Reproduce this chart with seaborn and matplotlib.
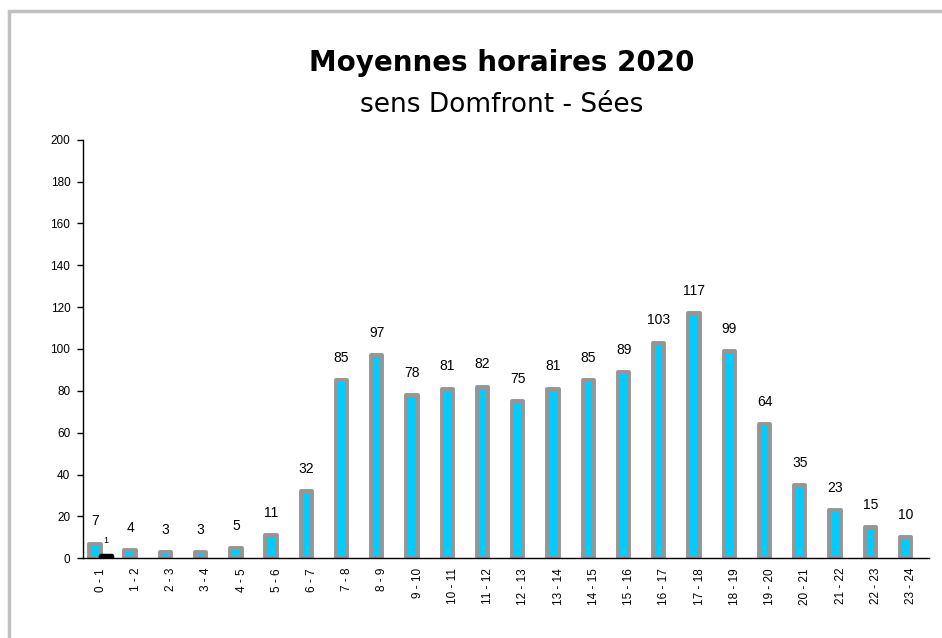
import numpy as np
import pandas as pd
import matplotlib
matplotlib.use('Agg')
import matplotlib.pyplot as plt
import matplotlib.patches as patches
import seaborn as sns

# Données
tranches = ['0 - 1', '1 - 2', '2 - 3', '3 - 4', '4 - 5', '5 - 6', '6 - 7', '7 - 8',
            '8 - 9', '9 - 10', '10 - 11', '11 - 12', '12 - 13', '13 - 14', '14 - 15',
            '15 - 16', '16 - 17', '17 - 18', '18 - 19', '19 - 20', '20 - 21',
            '21 - 22', '22 - 23', '23 - 24']
moyennes = [7, 4, 3, 3, 5, 11, 32, 85, 97, 78, 81, 82, 75, 81, 85, 89, 103, 117,
            99, 64, 35, 23, 15, 10]
serie2 = [1, 0, 0, 0, 0, 0, 0, 0, 0, 0, 0, 0, 0, 0, 0, 0, 0, 0, 0, 0, 0, 0, 0, 0]

df = pd.DataFrame({
    'tranche': tranches * 2,
    'valeur': moyennes + serie2,
    'serie': ['moy'] * len(tranches) + ['s2'] * len(tranches),
})

sns.set_style('white')
plt.rcParams['font.family'] = ['Liberation Sans', 'DejaVu Sans']
plt.rcParams['text.color'] = 'black'
plt.rcParams['xtick.color'] = 'black'
plt.rcParams['ytick.color'] = 'black'

fig = plt.figure(figsize=(9.42, 6.38), dpi=100)
ax = fig.add_axes([0.088, 0.125, 0.898, 0.656])

sns.barplot(data=df, x='tranche', y='valeur', hue='serie', order=tranches,
            palette=['#00ccff', '#000000'], saturation=1, width=0.64,
            legend=False, ax=ax)

# bordures des barres + étiquettes
couleurs_bord = ['#969696', '#000000']
epaisseurs = [2.8, 3.2]
for i, cont in enumerate(ax.containers):
    vals = moyennes if i == 0 else serie2
    for p, v in zip(cont.patches, vals):
        p.set_edgecolor(couleurs_bord[i])
        p.set_linewidth(epaisseurs[i])
        p.set_joinstyle('round')
        if v == 0:
            p.set_visible(False)
    if i == 0:
        ax.bar_label(cont, labels=[str(v) for v in vals], padding=11, fontsize=10,
                     color='black')
    else:
        ax.bar_label(cont, labels=[str(v) if v else '' for v in vals],
                     padding=8, fontsize=6.5, color='black')

ax.set_ylim(0, 200)
ax.set_xlim(-0.5, len(tranches) - 0.5)
ax.set_yticks(np.arange(0, 201, 20))
ax.set_xlabel('')
ax.set_ylabel('')

for s in ['top', 'right']:
    ax.spines[s].set_visible(False)
for s in ['left', 'bottom']:
    ax.spines[s].set_color('black')
    ax.spines[s].set_linewidth(1)

ax.tick_params(axis='x', which='major', length=0, pad=7, labelsize=8.5, rotation=90)
ax.set_xticks(np.arange(-0.5, len(tranches), 1), minor=True)
ax.tick_params(axis='x', which='minor', length=4, width=1, color='black', direction='out')
ax.tick_params(axis='y', length=4, width=1, color='black', direction='out',
               labelsize=8.5, pad=5, left=True)

fig.text(0.533, 0.902, 'Moyennes horaires 2020', ha='center', va='center',
         fontsize=20, fontweight='bold', family='DejaVu Sans', color='black')
fig.text(0.533, 0.835, 'sens Domfront - Sées', ha='center', va='center',
         fontsize=19, family='DejaVu Sans', color='black')

# cadre gris autour du graphique
fig.patches.append(patches.Rectangle((0.0095, -0.1), 1.2, 1.083, transform=fig.transFigure,
                                     fill=False, edgecolor='#c0c0c0', linewidth=2.5))

fig.savefig('out.png', dpi=100)
plt.close(fig)
